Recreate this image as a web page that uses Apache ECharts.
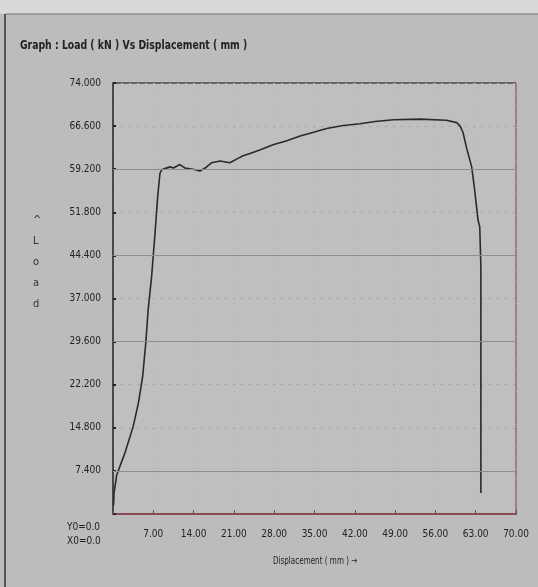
<!DOCTYPE html>
<html><head><meta charset="utf-8">
<script src="https://cdn.jsdelivr.net/npm/echarts@6/dist/echarts.min.js"></script>
<style>html,body{margin:0;padding:0;background:#bcbcbc}#c{width:538px;height:587px}</style>
</head><body><div id="c"></div>
<script>
const titleText = "Graph : Load ( kN ) Vs Displacement ( mm )";
const xName = "Displacement ( mm ) \u2192";
const yName = "^\nL\no\na\nd";
const disp = [0.1, 0.17, 0.64, 2.08, 3.5, 4.4, 5.15, 5.7, 6.1, 6.7, 7.3, 7.76, 8.16, 8.45, 9.0, 9.9, 10.5, 11.6, 12.5, 13.9, 15.1, 16.0, 17.1, 18.6, 20.3, 21.8, 22.6, 23.8, 25.5, 27.8, 30.2, 32.5, 35.0, 37.1, 40.0, 42.9, 45.5, 48.7, 53.3, 57.9, 59.7, 60.3, 60.8, 61.4, 62.3, 62.8, 63.4, 63.7, 63.9, 63.9, 63.9];
const load = [1.5, 3.5, 6.7, 10.5, 15.0, 19.0, 23.6, 29.4, 35.0, 40.7, 48.2, 54.5, 58.5, 59.1, 59.3, 59.6, 59.4, 60.0, 59.4, 59.2, 58.9, 59.4, 60.3, 60.6, 60.3, 61.1, 61.5, 61.9, 62.5, 63.4, 64.1, 64.9, 65.6, 66.2, 66.7, 67.0, 67.4, 67.7, 67.8, 67.6, 67.2, 66.6, 65.5, 62.9, 59.6, 55.8, 50.5, 49.3, 42.5, 25.0, 3.6];
const solidLevels = [59.2, 44.4, 29.6, 7.4];
const xOrigin = "X0=0.0", yOrigin = "Y0=0.0";

const FONT = '"DejaVu Sans Condensed","Liberation Sans Narrow","Liberation Sans",sans-serif';
const chart = echarts.init(document.getElementById('c'), null, {renderer: 'canvas'});
chart.setOption({
  backgroundColor: '#bcbcbc',
  animation: false,
  grid: {left: 113, right: 22, top: 83, bottom: 73, show: true, borderColor: '#8a5560', borderWidth: 1.2, backgroundColor: '#bfbfbf'},
  xAxis: {
    type: 'value', min: 0, max: 70, interval: 7,
    axisLine: {show: true, onZero: false, lineStyle: {color: '#8a4a55', width: 2}},
    axisTick: {show: true, inside: true, length: 4, lineStyle: {color: '#555'}},
    axisLabel: {color: '#222', fontFamily: FONT, fontSize: 10, margin: 15,
      formatter: v => v === 0 ? '' : v.toFixed(2)},
    splitLine: {show: true, lineStyle: {color: '#adadad', type: [1, 10], width: 1}}
  },
  yAxis: {
    type: 'value', min: 0, max: 74, interval: 7.4,
    axisLine: {show: true, onZero: false, lineStyle: {color: '#333', width: 1.5}},
    axisTick: {show: true, inside: true, length: 3, lineStyle: {color: '#222', width: 2}},
    axisLabel: {color: '#222', fontFamily: FONT, fontSize: 10, margin: 12,
      formatter: v => v === 0 ? '' : v.toFixed(3)},
    splitLine: {show: true, lineStyle: {color: '#a0a0a0', type: [2, 6], width: 1}}
  },
  graphic: [
    {type: 'rect', shape: {x: 0, y: 0, width: 538, height: 14}, style: {fill: '#d8d8d8'}},
    {type: 'line', shape: {x1: 5, y1: 14, x2: 538, y2: 14}, style: {stroke: '#777', lineWidth: 1}},
    {type: 'line', shape: {x1: 5, y1: 14, x2: 5, y2: 587}, style: {stroke: '#555', lineWidth: 2}},
    {type: 'line', shape: {x1: 113, y1: 83, x2: 516, y2: 83}, style: {stroke: '#555', lineWidth: 1.5}},
    {type: 'text', x: 20, y: 40, scaleX: 0.86, style: {text: titleText, font: 'bold 12px ' + FONT, fill: '#222'}},
    {type: 'text', left: 33, top: 210, style: {text: yName, font: '11px ' + FONT, fill: '#333', align: 'center', lineHeight: 21}},
    {type: 'text', left: 67, top: 520, style: {text: yOrigin + '\n' + xOrigin, font: '10px ' + FONT, fill: '#222', lineHeight: 14}},
    {type: 'text', x: 273, y: 556, scaleX: 0.8, style: {text: xName, font: '10px ' + FONT, fill: '#222'}}
  ],
  series: [{
    type: 'line', data: disp.map((x, i) => [x, load[i]]), showSymbol: false,
    lineStyle: {color: '#2a2a2a', width: 1.6},
    markLine: {silent: true, symbol: 'none', label: {show: false},
      lineStyle: {color: '#8f8f8f', type: 'solid', width: 1.2},
      data: solidLevels.map(v => ({yAxis: v}))}
  }]
});
</script></body></html>
